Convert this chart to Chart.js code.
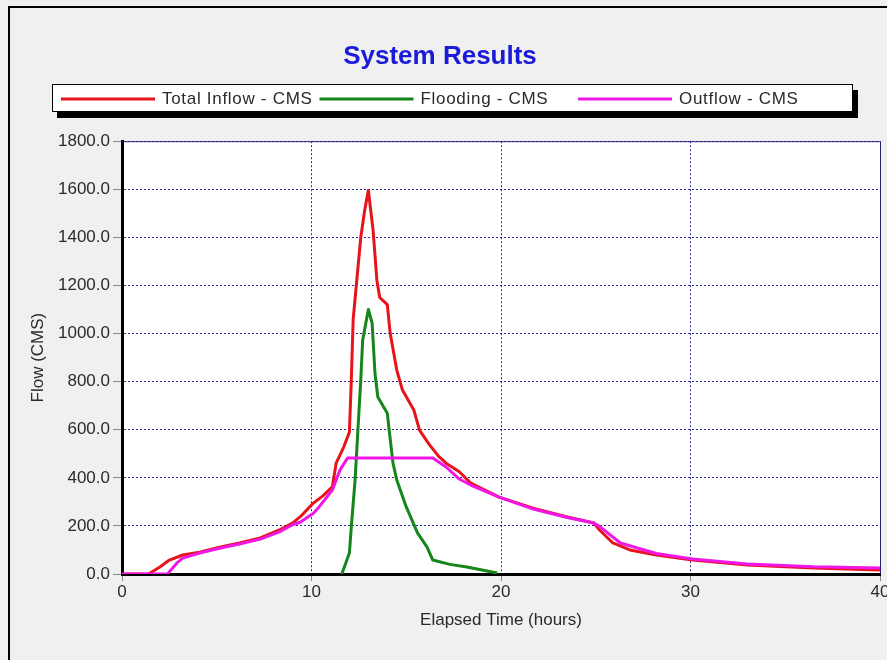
<!DOCTYPE html>
<html>
<head>
<meta charset="utf-8">
<title>System Results</title>
<script src="https://cdn.jsdelivr.net/npm/chart.js@4.4.1/dist/chart.umd.min.js"></script>
<style>
    html, body { margin: 0; padding: 0; background: #f0f0f0; }
    #wrap { position: relative; width: 887px; height: 660px; }
    #systemChart { display: block; }
</style>
</head>
<body>
<div id="wrap">
    <canvas id="systemChart" width="887" height="660"></canvas>
</div>
<script>
// Values (hours, CMS)
const inflowHours = [0, 1.4, 2.0, 2.5, 3.2, 4.1, 5.2, 6.2, 7.3, 8.3, 9.0, 9.5, 10.1, 10.6, 11.1, 11.3, 11.7, 12.0,
    12.1, 12.2, 12.4, 12.6, 12.8, 13.0, 13.25, 13.45, 13.6, 14.0, 14.15, 14.5, 14.8, 15.4, 15.7, 16.2, 16.7,
    17.1, 17.8, 18.4, 19.9, 21.7, 23.5, 24.9, 25.2, 25.9, 26.8, 28.2, 30.1, 33.0, 36.5, 40];
const inflowCms = [0, 0, 29, 58, 79, 91, 112, 129, 150, 183, 212, 245, 295, 325, 362, 461, 528, 590,
    806, 1060, 1230, 1400, 1510, 1596, 1430, 1222, 1150, 1120, 1002, 848, 765, 682, 598, 540, 490,
    461, 425, 378, 320, 274, 237, 212, 183, 129, 100, 79, 58, 37, 25, 17];

const floodHours = [11.6, 12.0, 12.1, 12.3, 12.5, 12.6, 12.7, 13.0, 13.2, 13.35, 13.5, 14.0, 14.1, 14.3, 14.5,
    15.0, 15.6, 16.1, 16.4, 17.3, 18.2, 19.8];
const floodCms = [0, 87, 195, 391, 669, 806, 972, 1100, 1043, 835, 736, 669, 598, 461, 391,
    279, 170, 112, 58, 40, 29, 4];

const outflowHours = [0, 2.4, 2.9, 3.2, 4.1, 5.2, 6.2, 7.3, 8.3, 9.0, 9.4, 10.1, 10.4, 11.1, 11.5, 11.9, 16.4,
    17.1, 17.8, 18.4, 19.9, 21.7, 23.5, 24.9, 25.2, 26.3, 27.2, 28.2, 30.1, 33.0, 36.5, 40];
const outflowCms = [0, 0, 46, 66, 87, 108, 125, 145, 175, 205, 215, 253, 279, 349, 432, 482, 482,
    445, 395, 370, 320, 270, 235, 212, 198, 129, 108, 85, 62, 42, 30, 25];

const seriesLabels = ['Total Inflow - CMS', 'Flooding - CMS', 'Outflow - CMS'];
const seriesColors = ['#e8141c', '#15861a', '#f016e8'];

const xTicks = [0, 10, 20, 30, 40];
const yTicks = [0, 200, 400, 600, 800, 1000, 1200, 1400, 1600, 1800];

const FONT = '"Liberation Sans", Arial, sans-serif';
const TEXT_COLOR = '#2a2a2a';
const GRID_COLOR = '#2c2c9a';

function toPoints(hours, values) {
    return hours.map((h, i) => ({ x: h, y: values[i] }));
}

// Grey panel, white plot area, window frame lines
const backdropPlugin = {
    id: 'backdrop',
    beforeDraw(chart) {
        const ctx = chart.ctx;
        const area = chart.chartArea;
        ctx.save();
        ctx.fillStyle = '#f0f0f0';
        ctx.fillRect(0, 0, chart.width, chart.height);
        ctx.fillStyle = '#ffffff';
        ctx.fillRect(area.left, area.top, area.right - area.left, area.bottom - area.top);
        ctx.fillStyle = '#000000';
        ctx.fillRect(8, 6, chart.width - 8, 2);
        ctx.fillRect(8, 6, 2, chart.height - 6);
        ctx.restore();
    },
    beforeDatasetsDraw(chart) {
        const ctx = chart.ctx;
        const area = chart.chartArea;
        ctx.save();
        ctx.strokeStyle = '#23237a';
        ctx.lineWidth = 1;
        ctx.beginPath();
        ctx.moveTo(area.left, area.top + 0.5);
        ctx.lineTo(area.right + 0.5, area.top + 0.5);
        ctx.lineTo(area.right + 0.5, area.bottom);
        ctx.stroke();
        ctx.restore();
    }
};

// Boxed legend with drop shadow, fixed column widths
const boxLegendPlugin = {
    id: 'boxLegend',
    afterDraw(chart) {
        const ctx = chart.ctx;
        const box = { x: 52, y: 84, w: 801, h: 28 };
        ctx.save();
        ctx.fillStyle = '#000000';
        ctx.fillRect(box.x + 5, box.y + 6, box.w, box.h);
        ctx.fillStyle = '#ffffff';
        ctx.fillRect(box.x, box.y, box.w, box.h);
        ctx.strokeStyle = '#000000';
        ctx.lineWidth = 1;
        ctx.strokeRect(box.x + 0.5, box.y + 0.5, box.w - 1, box.h - 1);

        const midY = box.y + 15;
        ctx.font = '17px ' + FONT;
        ctx.letterSpacing = '0.7px';
        ctx.textBaseline = 'middle';
        ctx.textAlign = 'left';
        chart.data.datasets.forEach((ds, i) => {
            const x0 = 61 + i * 258.5;
            ctx.fillStyle = ds.borderColor;
            ctx.fillRect(x0, midY - 1.5, 94, 3);
            ctx.fillStyle = TEXT_COLOR;
            ctx.fillText(ds.label, x0 + 101, midY);
        });
        ctx.restore();
    }
};

const ctx = document.getElementById('systemChart').getContext('2d');

new Chart(ctx, {
    type: 'line',
    data: {
        datasets: [
            {
                label: seriesLabels[0],
                data: toPoints(inflowHours, inflowCms),
                borderColor: seriesColors[0],
                borderWidth: 3,
                order: 1
            },
            {
                label: seriesLabels[1],
                data: toPoints(floodHours, floodCms),
                borderColor: seriesColors[1],
                borderWidth: 3,
                order: 2
            },
            {
                label: seriesLabels[2],
                data: toPoints(outflowHours, outflowCms),
                borderColor: seriesColors[2],
                borderWidth: 3,
                order: 0
            }
        ]
    },
    options: {
        responsive: false,
        animation: false,
        layout: {
            padding: { left: 0, right: 7, top: 0, bottom: 0 }
        },
        elements: {
            line: { tension: 0, fill: false, borderJoinStyle: 'round' },
            point: { radius: 0 }
        },
        plugins: {
            legend: { display: false },
            tooltip: { enabled: false },
            title: {
                display: true,
                text: 'System Results',
                color: '#1a1ad8',
                font: { family: FONT, size: 26, weight: 'bold' },
                padding: { top: 41, bottom: 69 }
            }
        },
        scales: {
            x: {
                type: 'linear',
                min: xTicks[0],
                max: xTicks[xTicks.length - 1],
                afterBuildTicks: scale => {
                    scale.ticks = xTicks.map(v => ({ value: v }));
                },
                afterFit: scale => {
                    scale.height = 86;
                    scale.paddingLeft = 0;
                    scale.paddingRight = 0;
                },
                grid: {
                    color: GRID_COLOR,
                    lineWidth: 1,
                    tickLength: 7,
                    tickColor: '#888888',
                    tickBorderDash: []
                },
                border: { display: true, color: '#000000', width: 3, dash: [2, 2] },
                ticks: {
                    color: TEXT_COLOR,
                    padding: 1,
                    maxRotation: 0,
                    font: { family: FONT, size: 17 }
                },
                title: {
                    display: true,
                    text: 'Elapsed Time (hours)',
                    color: TEXT_COLOR,
                    font: { family: FONT, size: 17 },
                    padding: { top: 0, bottom: 29 }
                }
            },
            y: {
                min: yTicks[0],
                max: yTicks[yTicks.length - 1],
                afterBuildTicks: scale => {
                    scale.ticks = yTicks.map(v => ({ value: v }));
                },
                afterFit: scale => {
                    scale.width = 122;
                    scale.paddingTop = 0;
                    scale.paddingBottom = 0;
                },
                grid: {
                    color: GRID_COLOR,
                    lineWidth: 1,
                    tickLength: 9,
                    tickColor: '#888888',
                    tickBorderDash: []
                },
                border: { display: true, color: '#000000', width: 3, dash: [2, 2] },
                ticks: {
                    color: TEXT_COLOR,
                    padding: 3,
                    callback: value => Number(value).toFixed(1),
                    font: { family: FONT, size: 17 }
                },
                title: {
                    display: true,
                    text: 'Flow (CMS)',
                    color: TEXT_COLOR,
                    font: { family: FONT, size: 17 },
                    padding: { top: 28, bottom: 0 }
                }
            }
        }
    },
    plugins: [backdropPlugin, boxLegendPlugin]
});
</script>
</body>
</html>
